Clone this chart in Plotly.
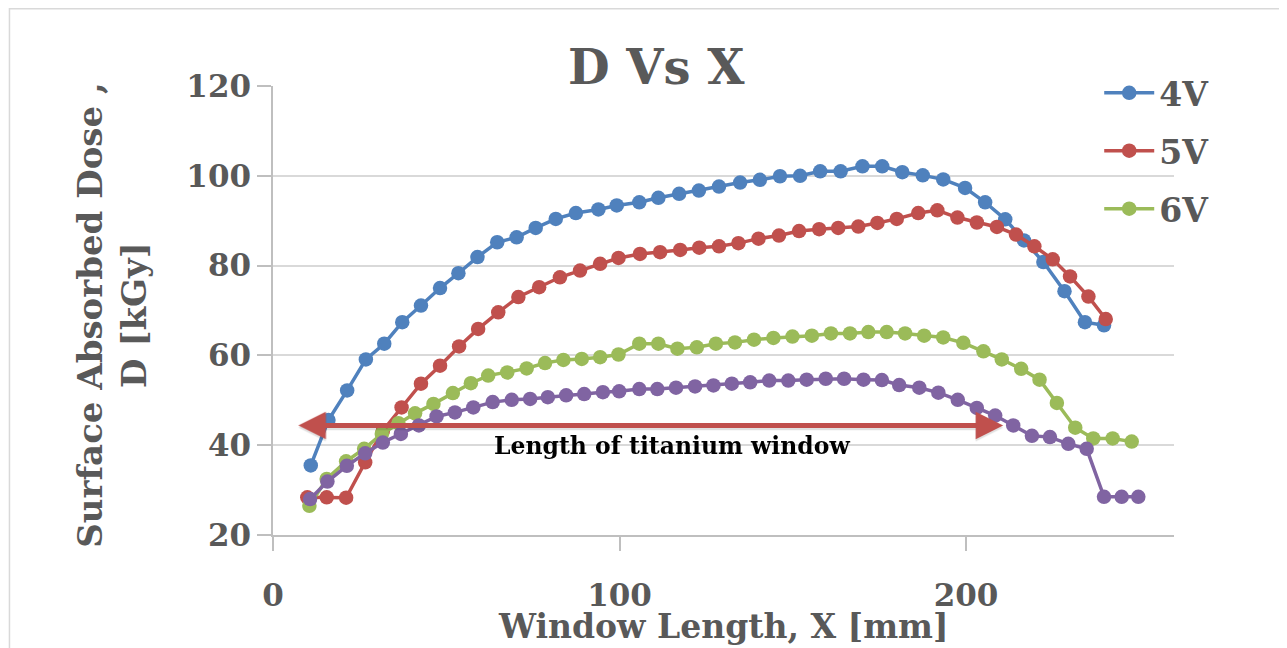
import plotly.graph_objects as go

# ---- data ----
x_4v = [10.9, 16.0, 21.4, 26.8, 32.1, 37.3, 42.7, 48.2, 53.5, 59.0, 64.7, 70.3, 75.8, 81.6, 87.4,
        93.9, 99.2, 105.7, 111.2, 117.2, 122.9, 128.7, 134.8, 140.5, 146.3, 152.1, 157.9, 163.8,
        170.1, 175.8, 181.6, 187.5, 193.4, 199.7, 205.5, 211.3, 216.7, 222.3, 228.4, 234.3, 239.8]
d_4v = [35.5, 45.6, 52.2, 59.1, 62.6, 67.4, 71.1, 75.0, 78.3, 81.9, 85.2, 86.3, 88.4, 90.4, 91.7,
        92.5, 93.4, 94.1, 95.1, 96.0, 96.7, 97.6, 98.5, 99.1, 99.9, 100.0, 101.0, 101.0, 102.1,
        102.1, 100.8, 100.1, 99.2, 97.3, 94.1, 90.3, 85.6, 80.8, 74.3, 67.4, 66.7]

x_5v = [9.9, 15.5, 21.1, 26.6, 31.7, 37.1, 42.7, 48.2, 53.7, 59.2, 65.0, 70.8, 76.8, 82.8, 88.6,
        94.4, 99.7, 105.9, 111.7, 117.5, 123.0, 128.7, 134.3, 140.1, 146.0, 151.8, 157.6, 163.1,
        168.9, 174.4, 180.0, 186.2, 191.7, 197.5, 203.1, 208.9, 214.4, 219.7, 225.0, 230.0,
        235.3, 240.3]
d_5v = [28.4, 28.4, 28.3, 36.2, 43.2, 48.4, 53.7, 57.7, 62.0, 65.9, 69.6, 73.0, 75.2, 77.4, 78.9,
        80.4, 81.7, 82.6, 83.0, 83.5, 84.0, 84.3, 85.0, 86.0, 86.7, 87.7, 88.1, 88.4, 88.7, 89.5,
        90.4, 91.7, 92.3, 90.7, 89.6, 88.6, 86.9, 84.3, 81.4, 77.6, 73.1, 68.1]

x_6v = [10.5, 15.5, 21.1, 26.3, 31.4, 36.2, 41.0, 46.3, 51.9, 57.1, 62.1, 67.6, 73.2, 78.5, 83.8,
        89.1, 94.4, 99.7, 105.7, 111.2, 116.7, 122.3, 127.8, 133.3, 138.8, 144.4, 149.9, 155.5,
        161.0, 166.5, 171.8, 177.1, 182.4, 187.9, 193.4, 199.2, 205.0, 210.3, 215.9, 221.2,
        226.2, 231.5, 236.7, 242.3, 247.8]
d_6v = [26.5, 32.5, 36.4, 39.2, 42.5, 44.9, 47.1, 49.2, 51.6, 53.8, 55.5, 56.2, 57.1, 58.3, 59.0,
        59.2, 59.6, 60.2, 62.6, 62.6, 61.5, 61.8, 62.6, 62.9, 63.5, 63.9, 64.2, 64.4, 64.9, 64.9,
        65.2, 65.2, 64.9, 64.4, 64.0, 62.8, 60.9, 59.1, 57.0, 54.6, 49.4, 43.9, 41.5, 41.5, 40.8]

x_7v = [10.7, 15.7, 21.3, 26.6, 31.7, 36.9, 42.1, 47.2, 52.5, 57.8, 63.4, 68.9, 74.2, 79.3, 84.6,
        89.8, 95.2, 99.9, 105.7, 110.9, 116.3, 121.8, 127.1, 132.4, 137.7, 143.2, 148.7, 154.0,
        159.5, 164.8, 170.4, 175.7, 180.7, 186.5, 192.0, 197.6, 203.1, 208.4, 213.6, 219.0,
        224.2, 229.5, 234.8, 239.8, 244.9, 249.7]
d_7v = [28.0, 31.9, 35.4, 38.2, 40.6, 42.5, 44.4, 46.4, 47.3, 48.4, 49.6, 50.1, 50.3, 50.7, 51.1,
        51.4, 51.8, 52.0, 52.5, 52.5, 52.8, 53.1, 53.3, 53.7, 54.0, 54.4, 54.4, 54.6, 54.8, 54.8,
        54.6, 54.5, 53.4, 52.8, 51.7, 50.1, 48.3, 46.6, 44.4, 42.1, 41.8, 40.3, 39.2, 28.5, 28.5, 28.5]

series_names = ["4V", "5V", "6V", "7V"]
series_colors = ["#4F81BD", "#C0504D", "#9BBB59", "#8064A2"]
y_ticks = [20, 40, 60, 80, 100, 120]
x_ticks = [0, 100, 200]

title_text = "D Vs X"
x_title = "Window Length, X [mm]"
y_title = "Surface Absorbed Dose ,<br>D [kGy]"
arrow_label = "Length of titanium window"
arrow_from, arrow_to, arrow_level = 6.9, 210.7, 44.4

FONT = "DejaVu Serif"
GRAY = "#595959"

fig = go.Figure()
xs = [x_4v, x_5v, x_6v, x_7v]
ds = [d_4v, d_5v, d_6v, d_7v]
for i, (name, col) in enumerate(zip(series_names, series_colors)):
    fig.add_trace(go.Scatter(
        x=xs[i], y=ds[i], name=name, mode="lines+markers",
        line=dict(color=col, width=3.5),
        marker=dict(color=col, size=14.5),
        showlegend=(i < 3), legendgroup=name,
    ))

# shadow of the arrow
fig.add_annotation(x=arrow_to, y=arrow_level - 0.5, ax=arrow_from, ay=arrow_level - 0.5,
                   xref="x", yref="y", axref="x", ayref="y", text="", showarrow=True,
                   arrowside="end+start", arrowhead=2, arrowsize=1.1, arrowwidth=5,
                   arrowcolor="rgba(0,0,0,0.12)")
fig.add_annotation(x=arrow_to, y=arrow_level, ax=arrow_from, ay=arrow_level,
                   xref="x", yref="y", axref="x", ayref="y", text="", showarrow=True,
                   arrowside="end+start", arrowhead=2, arrowsize=1.1, arrowwidth=5,
                   arrowcolor="#C0504D")
fig.add_annotation(x=115.2, y=39.9, xref="x", yref="y", text=arrow_label, showarrow=False,
                   font=dict(family=FONT, size=23.5, color="black", weight="bold"))

# title
fig.add_annotation(x=0.426, y=1.042, xref="paper", yref="paper", text=title_text,
                   showarrow=False, yanchor="middle",
                   font=dict(family=FONT, size=48, color=GRAY, weight="bold"))
# axis titles
fig.add_annotation(x=0.5, y=-0.203, xref="paper", yref="paper", text=x_title,
                   showarrow=False, yanchor="middle",
                   font=dict(family=FONT, size=33, color=GRAY, weight="bold"))
fig.add_annotation(x=-0.179, y=0.49, xref="paper", yref="paper", text=y_title,
                   showarrow=False, textangle=-90, xanchor="center", yanchor="middle",
                   font=dict(family=FONT, size=34, color=GRAY, weight="bold"))

# outer chart border (page has an 8px offset)
fig.add_shape(type="rect", xref="paper", yref="paper", x0=-0.2925, x1=1.1176, y0=-0.3, y1=1.172,
              line=dict(color="#D9D9D9", width=1.5), fillcolor="rgba(0,0,0,0)", layer="below")

fig.update_layout(
    width=1279, height=640,
    margin=dict(l=265, r=113, t=78, b=113.4, autoexpand=False),
    paper_bgcolor="white", plot_bgcolor="white",
    font=dict(family=FONT, color=GRAY),
    showlegend=True,
    legend=dict(x=0.917, y=1.047, xanchor="left", yanchor="top", bgcolor="rgba(0,0,0,0)",
                font=dict(family=FONT, size=33, color=GRAY, weight="bold"),
                itemwidth=50, tracegroupgap=12),
    xaxis=dict(range=[0, 260], tickvals=x_ticks, showgrid=False, zeroline=False,
               showline=True, linecolor="#BFBFBF", linewidth=1.5,
               ticks="outside", ticklen=14, tickcolor="#BFBFBF", tickwidth=1.5,
               ticklabelstandoff=18,
               tickfont=dict(family=FONT, size=31, color=GRAY, weight="bold")),
    yaxis=dict(range=[20, 120], tickvals=y_ticks, showgrid=True, gridcolor="#D9D9D9",
               gridwidth=1.5, zeroline=False, showline=True, linecolor="#BFBFBF", linewidth=1.5,
               ticks="outside", ticklen=14, tickcolor="#BFBFBF", tickwidth=1.5,
               tickfont=dict(family=FONT, size=31, color=GRAY, weight="bold")),
)

fig.write_html("out.html")
